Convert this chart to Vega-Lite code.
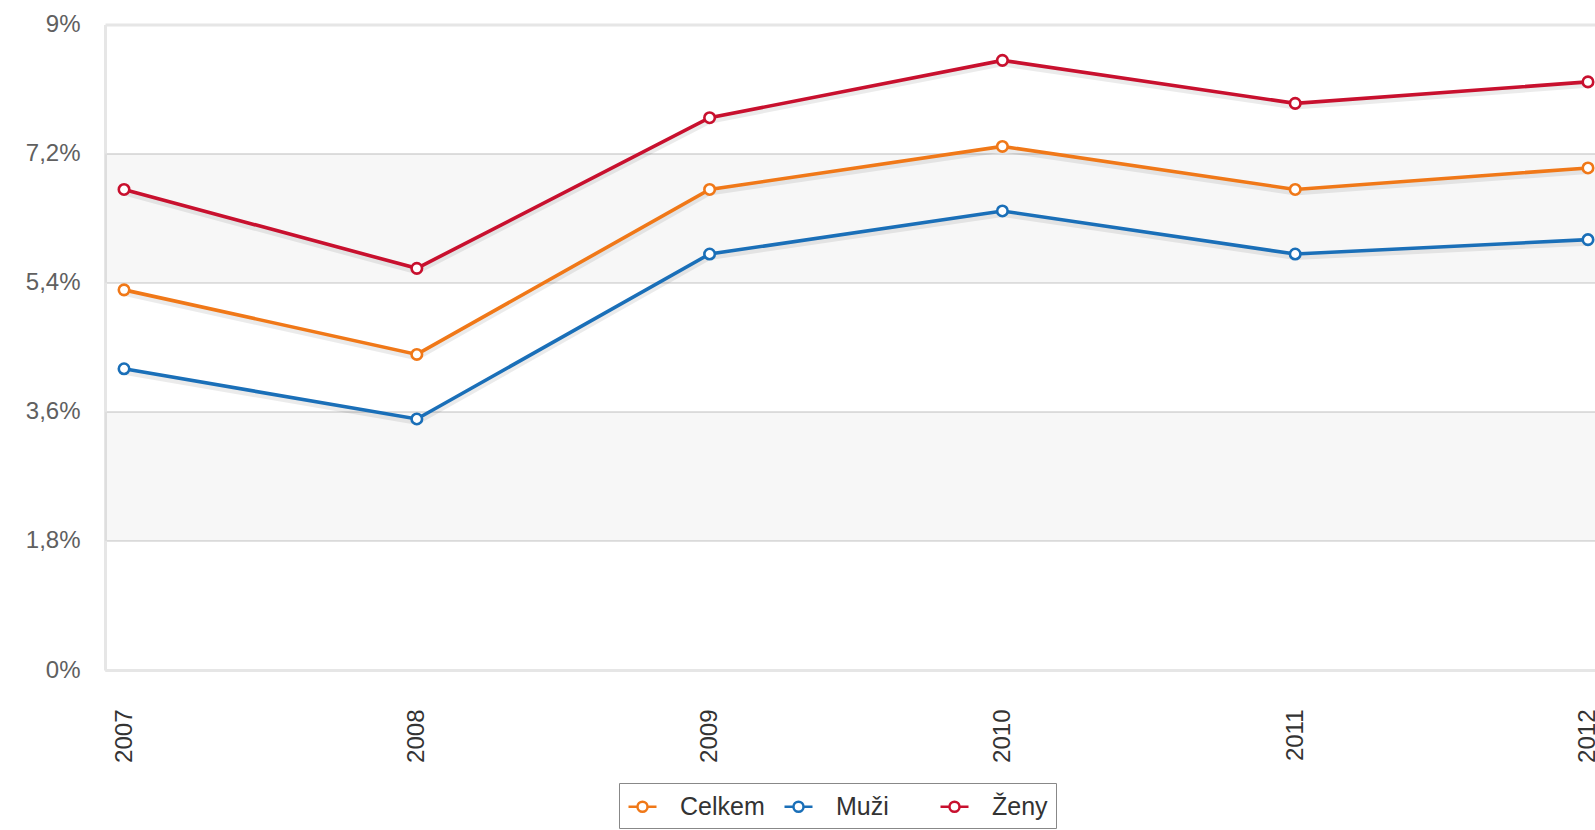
{
  "$schema": "https://vega.github.io/schema/vega-lite/v6.json",
  "width": 1490,
  "height": 645.5,
  "autosize": "none",
  "padding": {"left": 105, "top": 24.5, "right": 0, "bottom": 160},
  "config": {"view": {"stroke": null}, "font": "Liberation Sans"},
  "datasets": {
    "bands": [
      {"hodnota": 1.8, "hodnota2": 3.6},
      {"hodnota": 5.4, "hodnota2": 7.2}
    ],
    "series": [
      {"rok": 2007, "skupina": "Celkem", "hodnota": 5.3},
      {"rok": 2008, "skupina": "Celkem", "hodnota": 4.4},
      {"rok": 2009, "skupina": "Celkem", "hodnota": 6.7},
      {"rok": 2010, "skupina": "Celkem", "hodnota": 7.3},
      {"rok": 2011, "skupina": "Celkem", "hodnota": 6.7},
      {"rok": 2012, "skupina": "Celkem", "hodnota": 7.0},
      {"rok": 2007, "skupina": "Muži", "hodnota": 4.2},
      {"rok": 2008, "skupina": "Muži", "hodnota": 3.5},
      {"rok": 2009, "skupina": "Muži", "hodnota": 5.8},
      {"rok": 2010, "skupina": "Muži", "hodnota": 6.4},
      {"rok": 2011, "skupina": "Muži", "hodnota": 5.8},
      {"rok": 2012, "skupina": "Muži", "hodnota": 6.0},
      {"rok": 2007, "skupina": "Ženy", "hodnota": 6.7},
      {"rok": 2008, "skupina": "Ženy", "hodnota": 5.6},
      {"rok": 2009, "skupina": "Ženy", "hodnota": 7.7},
      {"rok": 2010, "skupina": "Ženy", "hodnota": 8.5},
      {"rok": 2011, "skupina": "Ženy", "hodnota": 7.9},
      {"rok": 2012, "skupina": "Ženy", "hodnota": 8.2}
    ]
  },
  "encoding": {
    "x": {
      "field": "rok",
      "type": "quantitative",
      "scale": {"domain": [2006.935, 2012.024], "nice": false, "zero": false},
      "axis": {
        "values": [2007, 2008, 2009, 2010, 2011, 2012],
        "format": "d",
        "labelAngle": -90,
        "title": null,
        "ticks": false,
        "grid": false,
        "labelPadding": 39,
        "labelFontSize": 24,
        "labelFont": "Liberation Sans",
        "labelColor": "#333333",
        "domainColor": "#e6e6e6",
        "domainWidth": 3,
        "labelFlush": false,
        "labelOverlap": false,
        "zindex": 1
      }
    },
    "y": {
      "field": "hodnota",
      "type": "quantitative",
      "scale": {"domain": [0, 9], "nice": false},
      "axis": {
        "values": [0, 1.8, 3.6, 5.4, 7.2, 9],
        "labelExpr": "replace(format(datum.value, '.1~f'), '.', ',') + '%'",
        "title": null,
        "ticks": false,
        "labelPadding": 25,
        "labelFontSize": 24,
        "labelFont": "Liberation Sans",
        "labelColor": "#606060",
        "domainColor": "#e6e6e6",
        "domainWidth": 3,
        "labelFlush": false,
        "labelOverlap": false,
        "gridColor": {"condition": {"test": "datum.value === 9", "value": "#e6e6e6"}, "value": "#c6c6c6"},
        "gridWidth": {"condition": {"test": "datum.value === 9", "value": 3}, "value": 1.2}
      }
    },
    "color": {
      "field": "skupina",
      "type": "nominal",
      "scale": {"domain": ["Celkem", "Muži", "Ženy"], "range": ["#f07818", "#1a6fb8", "#c8102e"]},
      "legend": {
        "orient": "none",
        "legendX": 514,
        "legendY": 758.5,
        "direction": "horizontal",
        "title": null,
        "symbolType": "M-1,0L-0.36,0M0.36,0L1,0M0.36,0A0.36,0.36,0,1,1,-0.36,0A0.36,0.36,0,1,1,0.36,0Z",
        "symbolSize": 784,
        "symbolStrokeWidth": 2.5,
        "symbolFillColor": "white",
        "labelFontSize": 25,
        "labelFont": "Liberation Sans",
        "labelColor": "#333333",
        "labelOffset": 22,
        "columnPadding": 14,
        "gridAlign": "all",
        "padding": 8,
        "strokeColor": "#888888",
        "fillColor": "white",
        "encode": {"symbols": {"update": {"fill": {"value": "white"}}}}
      }
    }
  },
  "layer": [
    {
      "data": {"name": "bands"},
      "mark": {"type": "rect", "opacity": 0.032},
      "encoding": {
        "x": {"value": 0},
        "x2": {"value": "width"},
        "y2": {"field": "hodnota2"},
        "color": {"value": "#000000"}
      }
    },
    {
      "data": {"name": "series"},
      "mark": {"type": "line", "strokeWidth": 6, "yOffset": 3, "opacity": 0.08},
      "encoding": {
        "color": {"value": "#000000"},
        "detail": {"field": "skupina", "type": "nominal"}
      }
    },
    {
      "data": {"name": "series"},
      "mark": {"type": "line", "strokeWidth": 3.6}
    },
    {
      "data": {"name": "series"},
      "mark": {"type": "point", "shape": "circle", "filled": false, "fill": "white", "fillOpacity": 1, "opacity": 1, "size": 110, "strokeWidth": 2.6}
    }
  ]
}
